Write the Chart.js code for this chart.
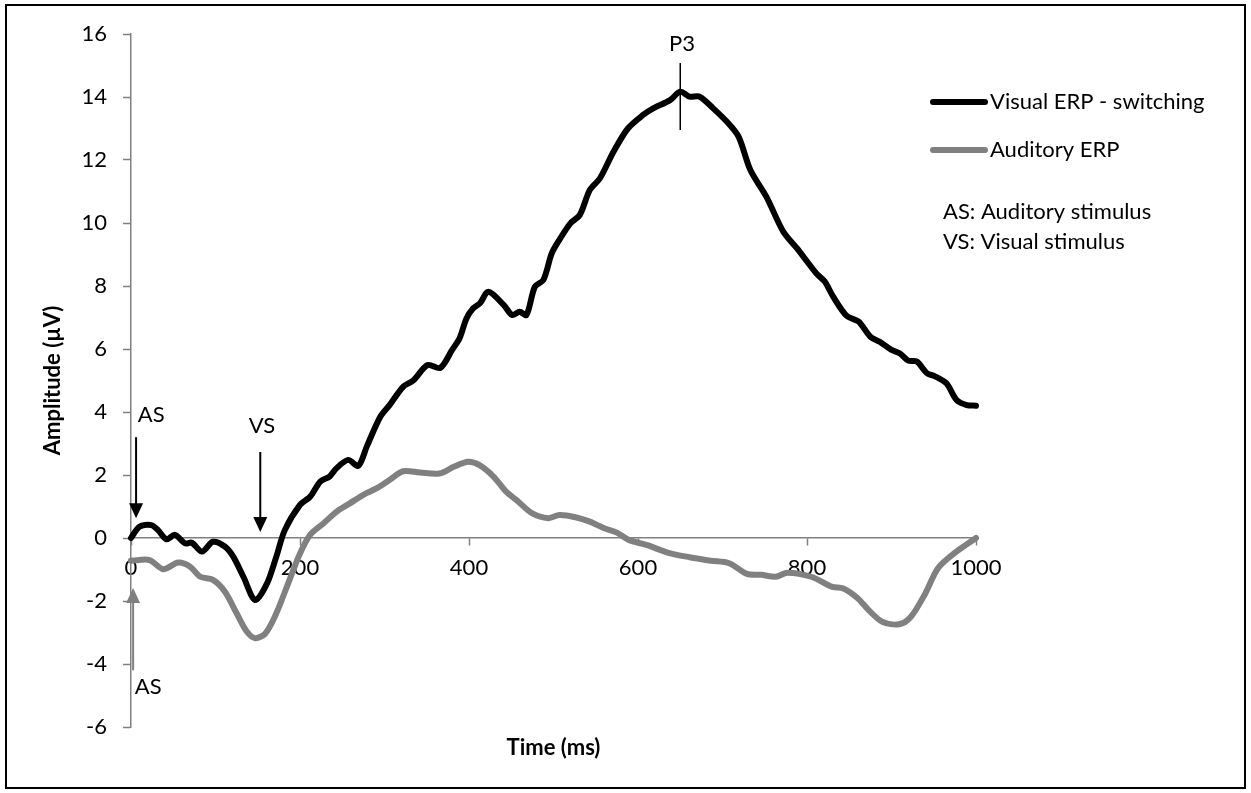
<!DOCTYPE html>
<html>
<head>
<meta charset="utf-8">
<script src="https://cdn.jsdelivr.net/npm/chart.js@4.4.0/dist/chart.umd.min.js"></script>
<style>
  body { margin: 0; background: #fff; }
</style>
</head>
<body>
<canvas id="myChart" width="1251" height="793"></canvas>
<script>
// ERP averages (time in ms, amplitude in microvolts)
var visualTime = [0, 10, 24, 32, 42, 52, 64, 72, 84, 97, 111, 121, 133, 147, 161, 172, 182, 200, 212, 224,
  235, 243, 257, 269, 279, 295, 306, 322, 334, 351, 366, 380, 389, 397, 405, 413, 423, 441, 451, 460,
  468, 478, 488, 498, 508, 520, 531, 543, 555, 571, 588, 606, 618, 638, 650, 661, 673, 689, 705, 719,
  733, 752, 772, 788, 811, 821, 831, 847, 861, 875, 886, 900, 910, 920, 930, 942, 951, 965, 977, 989, 1000];
var visualAmp = [0, 0.36, 0.41, 0.25, -0.04, 0.1, -0.17, -0.15, -0.43, -0.12, -0.27, -0.59, -1.23, -1.97, -1.44, -0.59, 0.25, 1.05, 1.31, 1.79,
  1.95, 2.21, 2.48, 2.29, 2.9, 3.85, 4.22, 4.8, 5.0, 5.49, 5.4, 5.97, 6.35, 6.97, 7.29, 7.45, 7.82, 7.4, 7.08, 7.18,
  7.08, 7.98, 8.19, 9.04, 9.51, 9.99, 10.25, 11.05, 11.42, 12.26, 13.0, 13.43, 13.64, 13.9, 14.17, 14.01, 14.01, 13.64, 13.22, 12.74,
  11.68, 10.83, 9.72, 9.2, 8.4, 8.14, 7.66, 7.05, 6.87, 6.39, 6.23, 5.97, 5.86, 5.63, 5.6, 5.23, 5.14, 4.91, 4.38, 4.22, 4.2];

var auditoryTime = [0, 22, 38, 56, 70, 82, 97, 111, 125, 137, 147, 159, 172, 186, 200, 212, 228, 243, 259, 275,
  291, 306, 322, 342, 365, 382, 399, 412, 429, 444, 456, 475, 494, 507, 526, 543, 560, 575, 589, 610,
  636, 661, 686, 708, 729, 746, 763, 777, 805, 830, 843, 860, 873, 889, 909, 923, 940, 955, 974, 1000];
var auditoryAmp = [-0.72, -0.7, -0.99, -0.78, -0.91, -1.23, -1.33, -1.7, -2.39, -2.97, -3.18, -3.03, -2.39, -1.44, -0.49, 0.1, 0.47, 0.83, 1.1, 1.37,
  1.58, 1.84, 2.12, 2.08, 2.05, 2.26, 2.42, 2.32, 1.95, 1.47, 1.21, 0.78, 0.63, 0.73, 0.66, 0.52, 0.31, 0.17, -0.06, -0.22,
  -0.47, -0.61, -0.72, -0.8, -1.14, -1.17, -1.23, -1.1, -1.23, -1.55, -1.6, -1.91, -2.29, -2.66, -2.74, -2.5, -1.76, -0.96, -0.49, 0];

var seriesNames = ["Visual ERP - switching", "Auditory ERP"];
var xTicks = [0, 200, 400, 600, 800, 1000];
var yTicks = [-6, -4, -2, 0, 2, 4, 6, 8, 10, 12, 14, 16];
var noteLines = ["AS: Auditory stimulus", "VS: Visual stimulus"];

function toPoints(t, v) {
  return t.map(function (x, i) { return { x: x, y: v[i] }; });
}

var FONT = "Lato";
var FS = 22;
var GREY = "#808080";

// stimulus markers, placed in data units (ms, uV)
var marks = [
  { text: "AS", t: 8, v: 3.9, align: "left" },
  { arrow: true, t: 6, from: 3.2, to: 0.63, color: "#000" },
  { text: "VS", t: 155, v: 3.57, align: "center" },
  { arrow: true, t: 153, from: 2.73, to: 0.19, color: "#000" },
  { arrow: true, t: 2.5, from: -4.2, to: -1.59, color: GREY },
  { text: "AS", t: 4.5, v: -4.73, align: "left" },
  { text: "P3", t: 652, v: 15.7, align: "center" }
];

var extras = {
  id: "extras",
  afterDatasetsDraw: function (chart) {
    var c = chart.ctx, x = chart.scales.x, y = chart.scales.y;
    c.save();
    c.font = FS + "px " + FONT;
    c.textBaseline = "middle";
    marks.forEach(function (m) {
      if (m.arrow) {
        var px = x.getPixelForValue(m.t);
        var y0 = y.getPixelForValue(m.from), y1 = y.getPixelForValue(m.to);
        var dir = y1 > y0 ? 1 : -1;
        c.strokeStyle = m.color; c.fillStyle = m.color; c.lineWidth = 2;
        c.beginPath(); c.moveTo(px, y0); c.lineTo(px, y1 - dir * 12); c.stroke();
        c.beginPath(); c.moveTo(px, y1); c.lineTo(px - 7, y1 - dir * 15); c.lineTo(px + 7, y1 - dir * 15); c.closePath(); c.fill();
      } else {
        c.fillStyle = "#000"; c.textAlign = m.align;
        c.fillText(m.text, x.getPixelForValue(m.t), y.getPixelForValue(m.v));
      }
    });
    // P3 peak tick
    var p3 = x.getPixelForValue(650);
    c.strokeStyle = "#000"; c.lineWidth = 1.5;
    c.beginPath(); c.moveTo(p3, y.getPixelForValue(15.08)); c.lineTo(p3, y.getPixelForValue(12.95)); c.stroke();
    c.restore();
  },
  afterDraw: function (chart) {
    var c = chart.ctx;
    c.save();
    // legend
    var cols = ["#000", GREY];
    c.font = FS + "px " + FONT;
    c.textBaseline = "middle"; c.textAlign = "left";
    seriesNames.forEach(function (name, i) {
      var ly = 102 + i * 48;
      c.strokeStyle = cols[i]; c.lineWidth = 6; c.lineCap = "round";
      c.beginPath(); c.moveTo(933, ly); c.lineTo(985, ly); c.stroke();
      c.fillStyle = "#000";
      c.fillText(name, 990, ly);
    });
    noteLines.forEach(function (s, i) {
      c.fillText(s, 943, 212 + i * 30);
    });
    // outer frame
    c.strokeStyle = "#000"; c.lineWidth = 2; c.lineCap = "butt";
    c.strokeRect(6, 5, 1239, 783);
    c.restore();
  }
};

Chart.defaults.font.family = FONT;
Chart.defaults.font.size = FS;
Chart.defaults.color = "#000";

var ctx = document.getElementById("myChart").getContext("2d");
var chart = new Chart(ctx, {
  type: "line",
  data: {
    datasets: [{
      label: seriesNames[0],
      data: toPoints(visualTime, visualAmp),
      borderColor: "#000",
      borderWidth: 6,
      pointRadius: 0,
      tension: 0.3,
      borderCapStyle: "round",
      borderJoinStyle: "round",
      clip: false,
      fill: false
    }, {
      label: seriesNames[1],
      data: toPoints(auditoryTime, auditoryAmp),
      borderColor: GREY,
      borderWidth: 6,
      pointRadius: 0,
      tension: 0.3,
      borderCapStyle: "round",
      borderJoinStyle: "round",
      clip: false,
      fill: false
    }]
  },
  options: {
    responsive: false,
    animation: false,
    layout: { padding: { top: 34, right: 275, bottom: 0, left: 0 } },
    plugins: { legend: { display: false }, tooltip: { enabled: false } },
    scales: {
      x: {
        type: "linear",
        position: { y: 0 },
        min: 0, max: 1000,
        afterBuildTicks: function (s) { s.ticks = xTicks.map(function (v) { return { value: v }; }); },
        grid: { drawOnChartArea: false, tickLength: 7, tickColor: GREY, tickWidth: 1.5 },
        border: { color: GREY, width: 1.5 },
        ticks: { padding: 10, maxRotation: 0, autoSkip: false, callback: function (v) { return String(v); } }
      },
      x2: {
        type: "linear",
        position: "bottom",
        min: 0, max: 1000,
        grid: { display: false },
        border: { display: false },
        ticks: { display: false },
        title: { display: true, text: "Time (ms)", font: { size: FS, weight: "bold" }, padding: { top: 0, bottom: 32 } },
        afterFit: function (s) { s.height = 66; }
      },
      y: {
        min: -6, max: 16,
        afterBuildTicks: function (s) { s.ticks = yTicks.map(function (v) { return { value: v }; }); },
        grid: { drawOnChartArea: false, tickLength: 8, tickColor: GREY, tickWidth: 1.5 },
        border: { color: GREY, width: 1.5 },
        ticks: { padding: 16 },
        title: { display: true, text: "Amplitude (µV)", font: { size: FS, weight: "bold" }, padding: { top: 40, bottom: 0 } },
        afterFit: function (s) { s.width = 131; }
      }
    }
  },
  plugins: [extras]
});
</script>
</body>
</html>
